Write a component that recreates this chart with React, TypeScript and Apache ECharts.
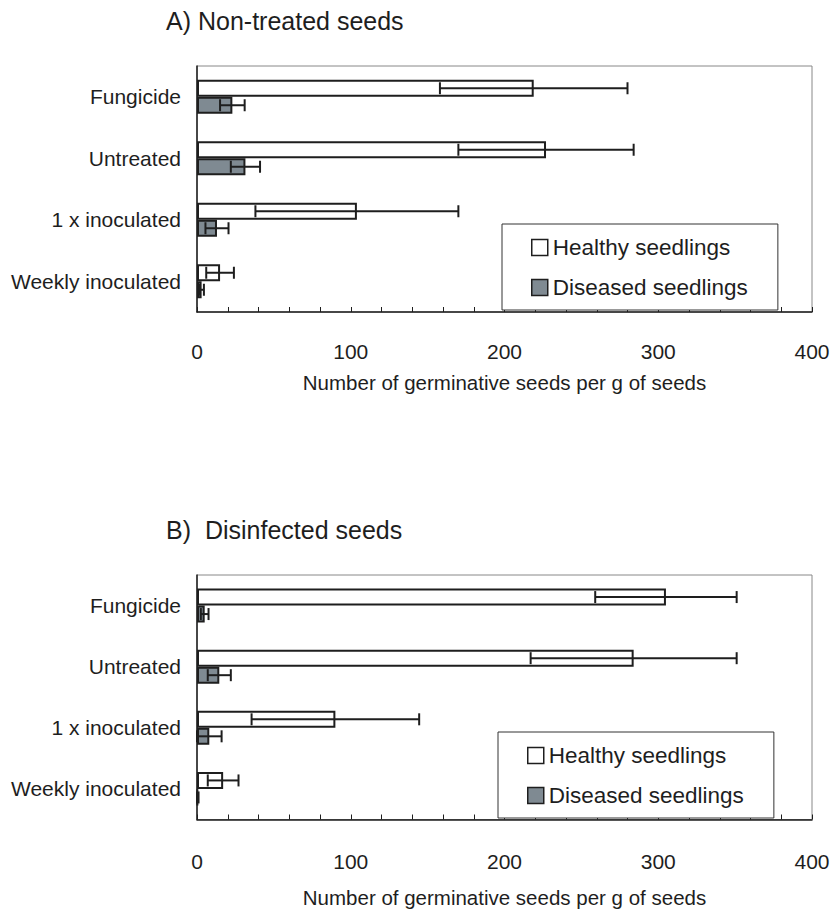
import React, { useEffect, useRef } from "react";
import * as echarts from "echarts";

const categories = ["Fungicide", "Untreated", "1 x inoculated", "Weekly inoculated"];
const tickLabels = ["0", "100", "200", "300", "400"];
const seriesNames = ["Healthy seedlings", "Diseased seedlings"];
const titles = ["A) Non-treated seeds", "B)  Disinfected seeds"];
const axisName = "Number of germinative seeds per g of seeds";

const healthyA = [219, 227, 104, 15];
const healthyErrA = [61, 57, 66, 9];
const diseasedA = [23, 31.5, 13, 3];
const diseasedErrA = [8, 9.5, 7.5, 1.5];

const healthyB = [305, 284, 90, 17];
const healthyErrB = [46, 67, 54.5, 10];
const diseasedB = [5, 14.5, 8, 0.5];
const diseasedErrB = [2.5, 7.5, 8, 0.5];

const FONT = "'Liberation Sans', Arial, Helvetica, sans-serif";
const INK = "#1e1e1e";
const GREY = "#7f8a92";
const BAR_W = 17;

function errSeries(gi: number, means: number[], errs: number[], side: number) {
  return {
    type: "custom",
    name: "err" + gi + side,
    xAxisIndex: gi,
    yAxisIndex: gi,
    silent: true,
    z: 6,
    data: means.map((m, i) => [m, i, errs[i]]),
    encode: { x: 0, y: 1 },
    renderItem: (params: any, api: any) => {
      const m = api.value(0);
      const ci = api.value(1);
      const e = api.value(2);
      const c = api.coord([m, ci]);
      const y = c[1] + (side * BAR_W) / 2;
      const lo = api.coord([Math.max(0, m - e), ci])[0];
      const hi = api.coord([m + e, ci])[0];
      const st = { stroke: INK, lineWidth: 2 };
      return {
        type: "group",
        children: [
          { type: "line", shape: { x1: lo, y1: y, x2: hi, y2: y }, style: st },
          { type: "line", shape: { x1: lo, y1: y - 6, x2: lo, y2: y + 6 }, style: st },
          { type: "line", shape: { x1: hi, y1: y - 6, x2: hi, y2: y + 6 }, style: st },
        ],
      };
    },
  };
}

function barSeries(gi: number, name: string, data: number[], fill: string) {
  return {
    type: "bar",
    name,
    xAxisIndex: gi,
    yAxisIndex: gi,
    data,
    barWidth: BAR_W,
    barGap: "0%",
    itemStyle: { color: fill, borderColor: INK, borderWidth: 2 },
  };
}

function xAxisCfg(gi: number, margin: number, gap: number) {
  return {
    type: "value",
    gridIndex: gi,
    min: 0,
    max: 400,
    interval: 20,
    splitLine: { show: false },
    axisLine: { show: true, lineStyle: { color: INK, width: 1.5 } },
    axisTick: { show: true, inside: true, length: 5, lineStyle: { color: INK, width: 1 } },
    axisLabel: {
      margin,
      fontSize: 21,
      color: INK,
      fontFamily: FONT,
      formatter: (v: number) => (v % 100 === 0 ? tickLabels[v / 100] : ""),
    },
    name: axisName,
    nameLocation: "middle",
    nameGap: gap,
    nameTextStyle: { fontSize: 20.5, color: INK, fontFamily: FONT },
  };
}

function yAxisCfg(gi: number) {
  return {
    type: "category",
    gridIndex: gi,
    inverse: true,
    data: categories,
    axisLine: { show: true, lineStyle: { color: INK, width: 1.5 } },
    axisTick: { show: false },
    axisLabel: { margin: 16, fontSize: 21, color: INK, fontFamily: FONT },
  };
}

function legendCfg(left: number, top: number) {
  return {
    left,
    top,
    orient: "vertical",
    selectedMode: false,
    icon: "rect",
    itemWidth: 16,
    itemHeight: 16,
    itemGap: 17,
    padding: [12, 30, 11, 29],
    borderColor: "#333",
    borderWidth: 1,
    borderRadius: 0,
    backgroundColor: "#fff",
    textStyle: { fontSize: 22.5, color: INK, fontFamily: FONT },
    data: [
      { name: seriesNames[0], itemStyle: { color: "#fff", borderColor: INK, borderWidth: 1.5 } },
      { name: seriesNames[1], itemStyle: { color: GREY, borderColor: INK, borderWidth: 1.5 } },
    ],
  };
}

export default function App() {
  const ref = useRef<HTMLDivElement>(null);
  useEffect(() => {
    document.body.style.margin = "0";
    const chart = echarts.init(ref.current!, null, { renderer: "svg" });
    chart.setOption({
      animation: false,
      backgroundColor: "#fff",
      title: [
        { text: titles[0], left: 166, top: 8, padding: 0, textStyle: { fontSize: 25, fontWeight: "normal", color: INK, fontFamily: FONT } },
        { text: titles[1], left: 166, top: 517, padding: 0, textStyle: { fontSize: 25, fontWeight: "normal", color: INK, fontFamily: FONT } },
      ],
      grid: [
        { left: 197, top: 66, width: 615, height: 246, show: true, borderColor: "#888", borderWidth: 1, backgroundColor: "transparent" },
        { left: 197, top: 575, width: 615, height: 244.5, show: true, borderColor: "#888", borderWidth: 1, backgroundColor: "transparent" },
      ],
      xAxis: [xAxisCfg(0, 29, 60), xAxisCfg(1, 31, 67)],
      yAxis: [yAxisCfg(0), yAxisCfg(1)],
      legend: [legendCfg(502, 224), legendCfg(498, 732)],
      series: [
        barSeries(0, seriesNames[0], healthyA, "#fff"),
        barSeries(0, seriesNames[1], diseasedA, GREY),
        errSeries(0, healthyA, healthyErrA, -1),
        errSeries(0, diseasedA, diseasedErrA, 1),
        barSeries(1, seriesNames[0], healthyB, "#fff"),
        barSeries(1, seriesNames[1], diseasedB, GREY),
        errSeries(1, healthyB, healthyErrB, -1),
        errSeries(1, diseasedB, diseasedErrB, 1),
      ],
    });
    return () => chart.dispose();
  }, []);
  return <div ref={ref} style={{ width: 833, height: 910 }} />;
}
